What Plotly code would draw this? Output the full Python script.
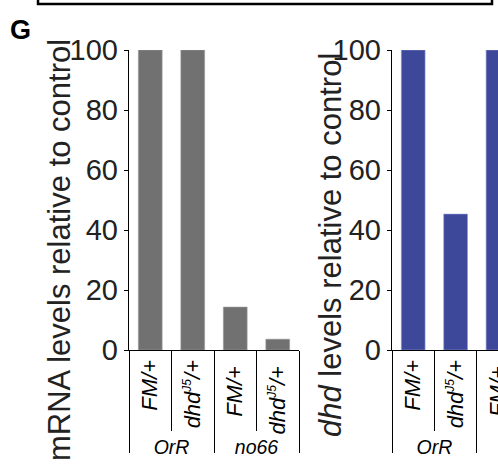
import plotly.graph_objects as go

groups = ["OrR", "OrR", "no66", "no66"]
genotypes = ["<i>FM/+</i>",
             "<i>dhd<sup><span style='font-size:12px'>J5</span></sup>/+</i>",
             "<i>FM/+</i> ",
             "<i>dhd<sup><span style='font-size:12px'>J5</span></sup>/+</i> "]
mrna_values = [100, 100, 14.3, 3.6]
dhd_values = [100, 45.3, 100, 3.0]
y_ticks = [0, 20, 40, 60, 80, 100]

GRAY = "#717171"
BLUE = "#3D489B"
FONT = "Liberation Sans, Arial, sans-serif"
W, H = 498, 465

# group geometry derived from the category list
group_names = list(dict.fromkeys(groups))
group_centers = [sum(i for i, g in enumerate(groups) if g == n) / groups.count(n) for n in group_names]
group_bounds = [-0.5] + [i + 0.5 for i in range(len(groups) - 1) if groups[i] != groups[i + 1]] + [len(groups) - 0.5]

fig = go.Figure()
fig.add_trace(go.Bar(x=genotypes, y=mrna_values,
                     marker=dict(color=GRAY, line=dict(color="#9a9a9a", width=0.6)),
                     xaxis="x", yaxis="y", showlegend=False, hoverinfo="skip"))
fig.add_trace(go.Bar(x=genotypes, y=dhd_values,
                     marker=dict(color=BLUE, line=dict(color="#8f97cf", width=0.6)),
                     xaxis="x2", yaxis="y2", showlegend=False, hoverinfo="skip"))
# invisible helpers so the overlay axes (group dividers / group labels) get drawn
for xa, ya, xs in [("x3", "y", group_bounds), ("x4", "y2", group_bounds),
                   ("x5", "y", group_centers), ("x6", "y2", group_centers)]:
    fig.add_trace(go.Scatter(x=xs, y=[0] * len(xs), xaxis=xa, yaxis=ya, mode="markers",
                             marker=dict(opacity=0, size=1), showlegend=False, hoverinfo="skip",
                             cliponaxis=True))

ydom = [(H - 350) / H, (H - 50) / H]
dom1 = [129 / W, 299 / W]
dom2 = [392 / W, 1.0]
rng1 = [-0.5, 3.5]
rng2 = [-0.5, 2.0]

xcat = dict(type="category", showline=True, linecolor="black", linewidth=1.2,
            ticks="outside", ticklen=80, tickcolor="black", tickwidth=1, tickson="boundaries",
            tickangle=-90, tickfont=dict(family=FONT, size=22, color="black"),
            showgrid=False, zeroline=False, automargin=False, fixedrange=True)
xdiv = dict(type="linear", showline=False, ticks="outside", ticklen=102, tickcolor="black",
            tickwidth=1, tickvals=group_bounds, showticklabels=False, showgrid=False,
            zeroline=False, automargin=False, fixedrange=True)
xgrp = dict(type="linear", showline=False, ticks="", tickvals=group_centers,
            ticktext=[f"<i>{g}</i>" for g in group_names], ticklabelstandoff=83,
            tickfont=dict(family=FONT, size=19.5, color="black"), showgrid=False,
            zeroline=False, automargin=False, fixedrange=True)
ycommon = dict(range=[0, 100], tickvals=y_ticks, ticks="outside", ticklen=4, tickcolor="black",
               showline=True, linecolor="black", linewidth=1.2, showgrid=False, zeroline=False,
               tickfont=dict(family=FONT, size=29, color="#222"), domain=ydom,
               automargin=False, fixedrange=True)

fig.update_layout(
    width=W, height=H, margin=dict(l=0, r=0, t=0, b=0, pad=0, autoexpand=False),
    paper_bgcolor="white", plot_bgcolor="white", bargap=0.44,
    xaxis=dict(**xcat, anchor="y", domain=dom1, range=rng1),
    yaxis=dict(**ycommon, anchor="x"),
    xaxis2=dict(**xcat, anchor="y2", domain=dom2, range=rng2),
    yaxis2=dict(**ycommon, anchor="x2"),
    xaxis3=dict(**xdiv, anchor="y", overlaying="x", domain=dom1, range=rng1),
    xaxis4=dict(**xdiv, anchor="y2", overlaying="x2", domain=dom2, range=rng2),
    xaxis5=dict(**xgrp, anchor="y", overlaying="x", domain=dom1, range=rng1),
    xaxis6=dict(**xgrp, anchor="y2", overlaying="x2", domain=dom2, range=rng2),
)

fig.add_annotation(text="mRNA levels relative to control", xref="paper", yref="paper",
                   x=60 / W, y=(H - 250) / H, textangle=-90, showarrow=False,
                   font=dict(family=FONT, size=31, color="#222"), xanchor="center", yanchor="middle")
fig.add_annotation(text="<i>dhd</i> levels relative to control", xref="paper", yref="paper",
                   x=330 / W, y=(H - 245) / H, textangle=-90, showarrow=False,
                   font=dict(family=FONT, size=31, color="#222"), xanchor="center", yanchor="middle")
fig.add_annotation(text="<b>G</b>", xref="paper", yref="paper", x=20 / W, y=(H - 30) / H,
                   showarrow=False, font=dict(family=FONT, size=27, color="black"),
                   xanchor="center", yanchor="middle")
fig.add_shape(type="rect", xref="paper", yref="paper", x0=38 / W, x1=492 / W,
              y0=(H - 4) / H, y1=1.05, line=dict(color="black", width=2.5))

fig.write_html("out.html", config={"displayModeBar": False, "staticPlot": True},
               post_script="document.body.style.margin='0px';document.body.style.overflow='hidden';")
